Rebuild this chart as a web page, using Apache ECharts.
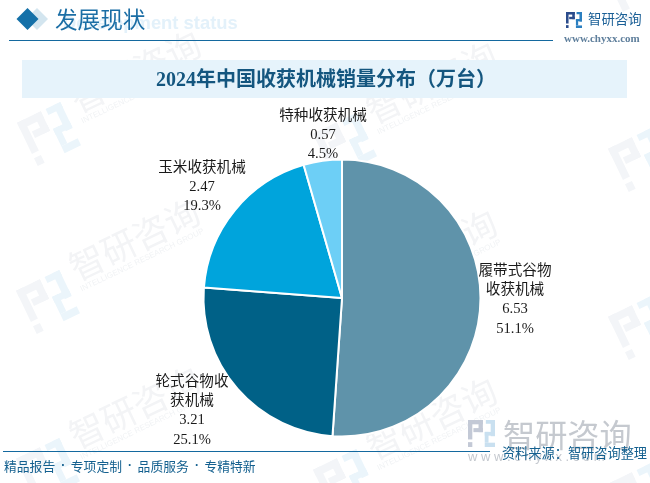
<!DOCTYPE html>
<html>
<head>
<meta charset="utf-8">
<style>html,body{margin:0;padding:0;background:#fff}#chart{width:650px;height:483px}</style>
<script src="https://cdn.jsdelivr.net/npm/echarts@6/dist/echarts.min.js"></script>
</head>
<body>
<div id="chart"></div>
<script>
var categories = ['履带式谷物\n收获机械', '轮式谷物收\n获机械', '玉米收获机械', '特种收获机械'];
var values = [6.53, 3.21, 2.47, 0.57];
var sliceColors = ['#5f93aa', '#006187', '#00a4dc', '#6dcff6'];
// 标签中心位置
var labelPos = [[515, 300], [192, 411], [202, 187], [323, 135]];
// 水印位置
var marks = [[49, 134], [48, 302], [48, 470], [345, 145], [345, 313], [345, 481], [640, -8], [640, 160], [640, 328], [640, 495]];
var titleText = '2024年中国收获机械销量分布（万台）';
var headerText = '发展现状';
var footerItems = ['精品报告', '专项定制', '品质服务', '专精特新'];
var cjk = '"Noto Sans CJK SC"';
var labelFont = '"Liberation Serif","Noto Sans CJK SC"';

function logo(x, y, s, colorA, colorB, z) {
	var left = [[0, 0, .55, .16], [0, 0, .16, .72], [.39, 0, .16, .45], [.2, .3, .35, .15], [0, .82, .16, .18]];
	var right = [[.66, 0, .34, .14], [.84, 0, .16, .6], [.62, .44, .38, .14], [.62, .44, .14, .4], [.62, .84, .38, .16]];
	function toRect(color) {
		return function (b) {
			return {type: 'rect', silent: true, z: z, shape: {x: x + b[0] * s, y: y + b[1] * s, width: b[2] * s, height: b[3] * s}, style: {fill: color}};
		};
	}
	return left.map(toRect(colorA)).concat(right.map(toRect(colorB)));
}

var graphic = [];
marks.forEach(function (m) {
	graphic.push({
		type: 'group', x: m[0], y: m[1], rotation: 0.447, silent: true, z: 0,
		children: logo(-24, -24, 48, '#f3f5f8', '#ebf5fb', 0).concat([
			{type: 'text', silent: true, x: 35, y: -19, style: {text: '智研咨询', font: '35px ' + cjk, fill: '#f3f4f6', verticalAlign: 'middle'}},
			{type: 'text', silent: true, x: 35, y: 3, style: {text: 'INTELLIGENCE RESEARCH GROUP', font: '8px "Liberation Sans"', fill: '#f1f3f5', verticalAlign: 'middle'}}
		])
	});
});
graphic.push(
	{type: 'rect', silent: true, z: 1, shape: {x: 22, y: 60, width: 605, height: 38}, style: {fill: '#e6f3fb'}},
	{type: 'text', silent: true, z: 2, x: 326, y: 81, style: {text: titleText, font: 'bold 20px "Liberation Serif","Noto Sans CJK SC"', fill: '#14567f', align: 'center', verticalAlign: 'middle'}},
	{type: 'text', silent: true, z: 1, x: 63, y: 24, style: {text: 'Development status', font: 'bold 18.4px "Liberation Sans"', fill: '#e3f1fa', verticalAlign: 'middle'}},
	{type: 'polygon', silent: true, z: 2, shape: {points: [[37, 8], [48, 19], [37, 30], [26, 19]]}, style: {fill: '#d3e5ef'}},
	{type: 'polygon', silent: true, z: 3, shape: {points: [[27.5, 8], [38.5, 19], [27.5, 30], [16.5, 19]]}, style: {fill: '#1470a8'}},
	{type: 'text', silent: true, z: 3, x: 55, y: 19, style: {text: headerText, font: '22.6px ' + cjk, fill: '#1b6ea5', verticalAlign: 'middle'}},
	{type: 'line', silent: true, z: 2, shape: {x1: 9, y1: 40.5, x2: 553, y2: 40.5}, style: {stroke: '#14699f', lineWidth: 1.2}},
	{type: 'text', silent: true, z: 2, x: 588, y: 19, style: {text: '智研咨询', font: '13.4px ' + cjk, fill: '#1a5f96', verticalAlign: 'middle'}},
	{type: 'text', silent: true, z: 2, x: 564, y: 39, style: {text: 'www.chyxx.com', font: 'bold 11px "Liberation Serif"', fill: '#5f7f9c', verticalAlign: 'middle'}},
	{type: 'line', silent: true, z: 2, shape: {x1: 3, y1: 451.5, x2: 490, y2: 451.5}, style: {stroke: '#14699f', lineWidth: 1.2}},
	{type: 'text', silent: true, z: 2, x: 503, y: 435, style: {text: '智研咨询', font: '32.2px ' + cjk, fill: '#c5c9cf', verticalAlign: 'middle'}},
	{type: 'text', silent: true, z: 2, x: 468, y: 457, style: {text: 'w w w . c h y x x . c o m', font: '13px "Liberation Sans"', fill: '#c5c9cf', verticalAlign: 'middle'}},
	{type: 'text', silent: true, z: 4, x: 502, y: 453, style: {text: '资料来源：智研咨询整理', font: '13.2px ' + cjk, fill: '#14608f', verticalAlign: 'middle'}}
);
footerItems.forEach(function (t, i) {
	graphic.push({type: 'text', silent: true, z: 2, x: 4 + i * 66.8, y: 466, style: {text: t, font: '12.8px ' + cjk, fill: '#14608f', verticalAlign: 'middle'}});
	if (i) graphic.push({type: 'text', silent: true, z: 2, x: i * 66.8 - 3.5, y: 466, style: {text: '·', font: 'bold 12px "Liberation Sans"', fill: '#14608f', align: 'center', verticalAlign: 'middle'}});
});
graphic = graphic.concat(logo(566, 12, 16, '#2b4c8c', '#2b7fc0', 2), logo(468, 420, 27, '#c3c9d6', '#c9e0f0', 2));

var chart = echarts.init(document.getElementById('chart'));
chart.setOption({
	animation: false,
	graphic: graphic,
	series: [{
		type: 'pie',
		center: [342, 298],
		radius: [0, 138.5],
		startAngle: 90,
		clockwise: true,
		percentPrecision: 1,
		z: 3,
		itemStyle: {borderColor: '#fff', borderWidth: 2},
		emphasis: {disabled: true},
		labelLine: {show: false},
		label: {
			show: true,
			position: 'outside',
			formatter: function (p) {
				return p.name + '\n' + p.value.toFixed(2) + '\n' + p.percent.toFixed(1) + '%';
			},
			fontFamily: labelFont,
			fontSize: 14.6,
			lineHeight: 19.3,
			color: '#1a1a1a',
			align: 'center',
			verticalAlign: 'middle'
		},
		labelLayout: function (params) {
			var p = labelPos[params.dataIndex];
			return {x: p[0], y: p[1], align: 'center', verticalAlign: 'middle'};
		},
		data: categories.map(function (name, i) {
			return {name: name, value: values[i], itemStyle: {color: sliceColors[i]}};
		})
	}]
});
</script>
</body>
</html>
